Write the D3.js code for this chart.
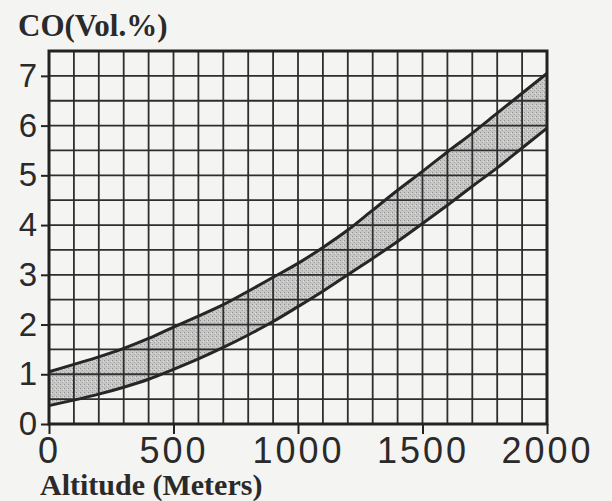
<!DOCTYPE html>
<html>
<head>
<meta charset="utf-8">
<script src="https://cdnjs.cloudflare.com/ajax/libs/d3/7.8.5/d3.min.js"></script>
<style>
    html, body { margin: 0; padding: 0; background: #f4f4f2; }
    svg { display: block; }
</style>
</head>
<body>
<div class="svg-content"></div>
<script>

//--- Data ---------------------------------------------------------------------------------------   //

var altitudes = [0, 100, 200, 300, 400, 500, 600, 700, 800, 900, 1000,
                 1100, 1200, 1300, 1400, 1500, 1600, 1700, 1800, 1900, 2000];
var coUpper = [1.05, 1.2, 1.35, 1.52, 1.72, 1.95, 2.17, 2.4, 2.67, 2.95, 3.23,
               3.55, 3.9, 4.3, 4.7, 5.08, 5.47, 5.85, 6.25, 6.65, 7.05];
var coLower = [0.37, 0.48, 0.6, 0.74, 0.9, 1.1, 1.31, 1.54, 1.79, 2.06, 2.36,
               2.67, 3.0, 3.33, 3.67, 4.03, 4.4, 4.78, 5.15, 5.55, 5.95];
var xTicks = [0, 500, 1000, 1500, 2000];
var yTicks = [0, 1, 2, 3, 4, 5, 6, 7];

//--- Chart ------------------------------------------------------------------------------------   //

var width = 612, height = 501;
var plotLeft = 49, plotRight = 547, plotTop = 51, plotBottom = 424;

var x = d3.scaleLinear().domain([0, 2000]).range([plotLeft, plotRight]);
var y = d3.scaleLinear().domain([0, 7.5]).range([plotBottom, plotTop]);

var svg = d3.select(".svg-content")
    .append("svg")
    .attr("width", width)
    .attr("height", height);

// stipple for the band
var pat = svg.append("defs").append("pattern")
    .attr("id", "stipple")
    .attr("patternUnits", "userSpaceOnUse")
    .attr("width", 4)
    .attr("height", 4);
pat.append("rect").attr("width", 4).attr("height", 4).attr("fill", "#c6c6c4");
pat.append("rect").attr("x", 0).attr("y", 0).attr("width", 1).attr("height", 1).attr("fill", "#909090");
pat.append("rect").attr("x", 2).attr("y", 2).attr("width", 1).attr("height", 1).attr("fill", "#a2a2a2");
pat.append("rect").attr("x", 3).attr("y", 1).attr("width", 1).attr("height", 1).attr("fill", "#e2e2e2");

var pts = altitudes.map(function(a, i) {
    return {alt: a, lo: coLower[i], hi: coUpper[i]};
});

var area = d3.area()
    .curve(d3.curveMonotoneX)
    .x(function(d) { return x(d.alt); })
    .y0(function(d) { return y(d.lo); })
    .y1(function(d) { return y(d.hi); });

svg.append("path")
    .datum(pts)
    .attr("d", area)
    .attr("fill", "url(#stipple)");

// grid
svg.append("g")
    .selectAll("line")
    .data(d3.range(100, 2000, 100))
    .enter()
    .append("line")
    .attr("x1", function(d) { return x(d); })
    .attr("x2", function(d) { return x(d); })
    .attr("y1", plotTop)
    .attr("y2", plotBottom)
    .attr("stroke", "#2e2e2e")
    .attr("stroke-width", 1.8);

svg.append("g")
    .selectAll("line")
    .data(d3.range(0.5, 7.5, 0.5))
    .enter()
    .append("line")
    .attr("x1", plotLeft)
    .attr("x2", plotRight)
    .attr("y1", function(d) { return y(d); })
    .attr("y2", function(d) { return y(d); })
    .attr("stroke", "#2e2e2e")
    .attr("stroke-width", 1.8);

// band edges
var lineHi = d3.line().curve(d3.curveMonotoneX)
    .x(function(d) { return x(d.alt); })
    .y(function(d) { return y(d.hi); });
var lineLo = d3.line().curve(d3.curveMonotoneX)
    .x(function(d) { return x(d.alt); })
    .y(function(d) { return y(d.lo); });

svg.append("path").datum(pts).attr("d", lineHi)
    .attr("fill", "none").attr("stroke", "#262626").attr("stroke-width", 3);
svg.append("path").datum(pts).attr("d", lineLo)
    .attr("fill", "none").attr("stroke", "#262626").attr("stroke-width", 3);

// frame
svg.append("rect")
    .attr("x", plotLeft)
    .attr("y", plotTop)
    .attr("width", plotRight - plotLeft)
    .attr("height", plotBottom - plotTop)
    .attr("fill", "none")
    .attr("stroke", "#222")
    .attr("stroke-width", 3);

// axes
var xAxis = d3.axisBottom(x).tickValues(xTicks).tickFormat(d3.format("d"))
    .tickSize(10).tickPadding(3);
var yAxis = d3.axisLeft(y).tickValues(yTicks).tickSize(8).tickPadding(4);

var gx = svg.append("g")
    .attr("transform", "translate(0," + plotBottom + ")")
    .call(xAxis);
var gy = svg.append("g")
    .attr("transform", "translate(" + plotLeft + ",0)")
    .call(yAxis);

gx.select(".domain").remove();
gy.select(".domain").remove();

[gx, gy].forEach(function(g) {
    g.selectAll("line").attr("stroke", "#222").attr("stroke-width", 2);
    g.selectAll("text")
        .attr("fill", "#2a2a2a")
        .style("font-family", "'Liberation Sans', Arial, sans-serif")
        .style("font-size", "33px");
});

gx.selectAll("text")
    .style("font-size", "36px")
    .style("letter-spacing", "3px");

// titles
svg.append("text")
    .attr("x", 18)
    .attr("y", 36)
    .text("CO(Vol.%)")
    .style("font-family", "'Liberation Serif', 'Times New Roman', serif")
    .style("font-weight", "bold")
    .style("font-size", "31px")
    .attr("fill", "#2a2a2a");

svg.append("text")
    .attr("x", 40)
    .attr("y", 495)
    .text("Altitude (Meters)")
    .style("font-family", "'Liberation Serif', 'Times New Roman', serif")
    .style("font-weight", "bold")
    .style("font-size", "30px")
    .attr("fill", "#2a2a2a");

</script>
</body>
</html>
